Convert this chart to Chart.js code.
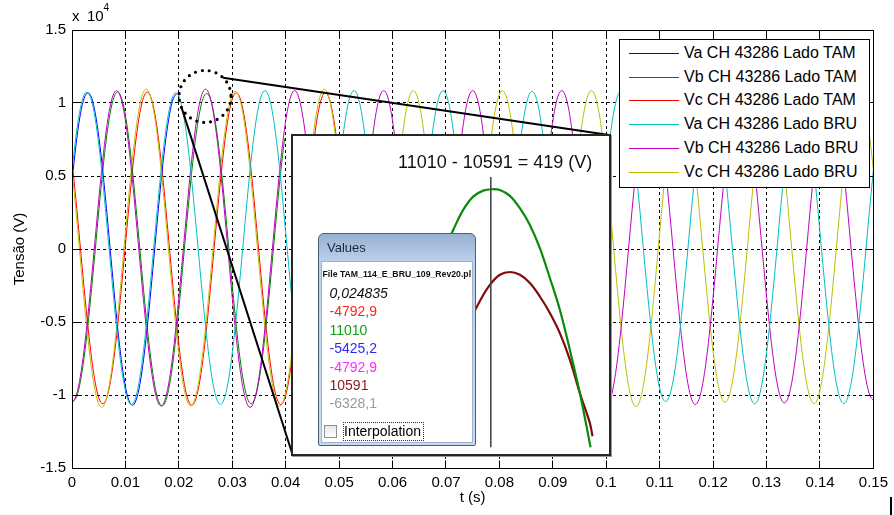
<!DOCTYPE html>
<html><head><meta charset="utf-8"><title>Tensão</title>
<script src="https://cdn.jsdelivr.net/npm/chart.js@4.4.1/dist/chart.umd.min.js"></script>
<style>
html,body{margin:0;padding:0;background:#fff;overflow:hidden;}
#wrap{position:relative;width:894px;height:515px;font-family:"Liberation Sans",Arial,Helvetica,sans-serif;color:#000;}
#main{position:absolute;left:0;top:0;}
#legend{position:absolute;left:619px;top:39px;width:249px;height:147px;border:1px solid #000;background:#fff;}
#legend .row{position:absolute;left:0;width:249px;height:24px;line-height:24px;font-size:16px;white-space:nowrap;}
#legend .sw{position:absolute;left:9px;top:12px;width:50px;height:1px;}
#legend .lb{position:absolute;left:64px;top:0;}
#inset{position:absolute;left:291px;top:134px;width:316px;height:318px;border:2px solid #262626;background:#fff;box-shadow:1px 1px 0 #9a9a9a;}
#zoomc{position:absolute;left:0;top:0;}
#diff{position:absolute;left:105px;top:17px;font-size:18px;line-height:18px;white-space:nowrap;color:#111;}
#dlg{position:absolute;left:25px;top:97px;width:156px;height:211px;border:1px solid #4d5d73;border-radius:6px 6px 2px 2px;background:linear-gradient(#98b1d2,#bcd0ea 28px,#c8daf0);}
#dlg .client{position:absolute;left:2px;top:27px;width:150px;height:180px;background:#fff;border:1px solid #9db3cf;}
#dlg .ttl{position:absolute;left:8px;top:6px;font-size:13px;line-height:16px;color:#1b2a3c;}
#dlg .file{position:absolute;left:3.5px;top:35px;font-size:8.7px;font-weight:bold;line-height:10px;white-space:nowrap;color:#111;}
#dlg .val{position:absolute;left:10.5px;font-size:14px;line-height:18px;white-space:nowrap;}
#dlg .chk{position:absolute;left:5px;top:191px;width:11px;height:11px;border:1px solid #8f8f8f;background:linear-gradient(#e8e8e8,#fff);}
#dlg .itx{position:absolute;left:25px;top:188px;font-size:14px;line-height:18px;white-space:nowrap;}
#dlg .focus{position:absolute;left:23.5px;top:187.5px;width:79px;height:17px;border:1px dotted #333;}
#corner{position:absolute;left:890px;top:497px;width:2px;height:18px;background:#000;}
</style></head>
<body>
<div id="wrap">
  <canvas id="main" width="894" height="515"></canvas>
  <div id="legend"></div>
  <div id="inset">
    <canvas id="zoomc" width="316" height="318"></canvas>
    <div id="diff"></div>
    <div id="dlg">
      <div class="client"></div>
      <div class="ttl">Values</div>
      <div class="file">File TAM_114_E_BRU_109_Rev20.pl</div>
      <div id="vals"></div>
      <div class="chk"></div>
      <div class="focus"></div>
      <div class="itx">Interpolation</div>
    </div>
  </div>
  <div id="corner"></div>
</div>
<script>
// ================= DATA =================
// Main chart: voltages in units of 10^4 V, sampled every SAMPLE_DT seconds
const SERIES_NAMES = ['Va CH 43286 Lado TAM','Vb CH 43286 Lado TAM','Vc CH 43286 Lado TAM',
                      'Va CH 43286 Lado BRU','Vb CH 43286 Lado BRU','Vc CH 43286 Lado BRU'];
const SERIES_COLORS = ['#0000ff','#008000','#ff0000','#00bfbf','#bf00bf','#bfbf00'];
const SAMPLE_DT = 1/1440;   // s
const TAM_T0 = 0.0002;      // s, first TAM sample
const BRU_T0 = 0;           // s, first BRU sample
const X_MIN = 0, X_MAX = 0.15, X_STEP = 0.01;
const Y_MIN = -1.5, Y_MAX = 1.5, Y_STEP = 0.5;
const Y_EXPONENT = '4';

const vaTAM = [
.535,.757,.927,1.034,1.07,1.034,.927,.757,.535,.277,0,-.277,-.535,-.757,-.927,-1.034,-1.07,-1.034,-.927,-.757,-.535,-.277,0,.276,
.533,.753,.922,1.029,1.065];
const vbTAM = [
-1.045,-1.009,-.905,-.739,-.523,-.27,0,.278,.538,.76,.931,1.038,1.075,1.038,.931,.76,.538,.278,0,-.278,-.538,-.76,-.931,-1.038,
-1.075,-1.038,-.931,-.76,-.538,-.278,0,.276,.533,.753,.922,1.029,1.065,1.029,.922,.753,.533,.276,0,-.274,-.53,-.75,-.918,-1.024,
-1.06,-1.024,-.918,-.75,-.53,-.274,0,.277,.535,.757];
const vcTAM = [
.535,.277,0,-.274,-.53,-.75,-.918,-1.024,-1.06,-1.024,-.918,-.75,-.53,-.274,0,.278,.538,.76,.931,1.038,1.075,1.038,.931,.76,
.538,.278,0,-.277,-.535,-.757,-.927,-1.034,-1.07,-1.034,-.927,-.757,-.535,-.277,0,.277,.535,.757,.927,1.034,1.07,1.034,.927,.757,
.535,.277,0,-.276,-.533,-.753,-.922,-1.029,-1.065,-1.029,-.922,-.753,-.533,-.276,0,.277,.535,.757,.927,1.034,1.07,1.034,.927,.757,
.535];
const vaBRU = [
.538,.76,.931,1.038,1.075,1.038,.931,.76,.538,.278,0,-.276,-.533,-.753,-.922,-1.029,-1.065,-1.029,-.922,-.753,-.533,-.276,0,.277,
.535,.757,.927,1.034,1.07,1.034,.927,.757,.535,.277,0,-.276,-.533,-.753,-.922,-1.029,-1.065,-1.029,-.922,-.753,-.533,-.276,0,.281,
.543,.767,.94,1.048,1.085,1.048,.94,.767,.543,.281,0,-.274,-.53,-.75,-.918,-1.024,-1.06,-1.024,-.918,-.75,-.53,-.274,0,.281,
.543,.767,.94,1.048,1.085,1.048,.94,.767,.543,.281,0,-.274,-.53,-.75,-.918,-1.024,-1.06,-1.024,-.918,-.75,-.53,-.274,0,.281,
.543,.767,.94,1.048,1.085,1.048,.94,.767,.543,.281,0,-.274,-.53,-.75,-.918,-1.024,-1.06,-1.024,-.918,-.75,-.53,-.274,0,.28,
.54,.764,.935,1.043,1.08,1.043,.935,.764,.54,.28,0,-.274,-.53,-.75,-.918,-1.024,-1.06,-1.024,-.918,-.75,-.53,-.274,0,.28,
.54,.764,.935,1.043,1.08,1.043,.935,.764,.54,.28,0,-.27,-.523,-.739,-.905,-1.009,-1.045,-1.009,-.905,-.739,-.523,-.27,0,.28,
.54,.764,.935,1.043,1.08,1.043,.935,.764,.54,.28,0,-.274,-.53,-.75,-.918,-1.024,-1.06,-1.024,-.918,-.75,-.53,-.274,0,.28,
.54,.764,.935,1.043,1.08,1.043,.935,.764,.54,.28,0,-.274,-.53,-.75,-.918,-1.024,-1.06,-1.024,-.918,-.75,-.53,-.274,0,.28,
.54];
const vbBRU = [
-1.05,-1.014,-.909,-.742,-.525,-.272,0,.281,.543,.767,.94,1.048,1.085,1.048,.94,.767,.543,.281,0,-.278,-.538,-.76,-.931,-1.038,
-1.075,-1.038,-.931,-.76,-.538,-.278,0,.283,.548,.774,.948,1.058,1.095,1.058,.948,.774,.548,.283,0,-.281,-.543,-.767,-.94,-1.048,
-1.085,-1.048,-.94,-.767,-.543,-.281,0,.281,.543,.767,.94,1.048,1.085,1.048,.94,.767,.543,.281,0,-.278,-.538,-.76,-.931,-1.038,
-1.075,-1.038,-.931,-.76,-.538,-.278,0,.281,.543,.767,.94,1.048,1.085,1.048,.94,.767,.543,.281,0,-.278,-.538,-.76,-.931,-1.038,
-1.075,-1.038,-.931,-.76,-.538,-.278,0,.281,.543,.767,.94,1.048,1.085,1.048,.94,.767,.543,.281,0,-.278,-.538,-.76,-.931,-1.038,
-1.075,-1.038,-.931,-.76,-.538,-.278,0,.281,.543,.767,.94,1.048,1.085,1.048,.94,.767,.543,.281,0,-.278,-.538,-.76,-.931,-1.038,
-1.075,-1.038,-.931,-.76,-.538,-.278,0,.28,.54,.764,.935,1.043,1.08,1.043,.935,.764,.54,.28,0,-.276,-.533,-.753,-.922,-1.029,
-1.065,-1.029,-.922,-.753,-.533,-.276,0,.28,.54,.764,.935,1.043,1.08,1.043,.935,.764,.54,.28,0,-.273,-.528,-.746,-.914,-1.019,
-1.055,-1.019,-.914,-.746,-.528,-.273,0,.28,.54,.764,.935,1.043,1.08,1.043,.935,.764,.54,.28,0,-.268,-.518,-.732,-.896,-1,
-1.035];
const vcBRU = [
.543,.281,0,-.281,-.543,-.767,-.94,-1.048,-1.085,-1.048,-.94,-.767,-.543,-.281,0,.283,.548,.774,.948,1.058,1.095,1.058,.948,.774,
.548,.283,0,-.278,-.538,-.76,-.931,-1.038,-1.075,-1.038,-.931,-.76,-.538,-.278,0,.28,.54,.764,.935,1.043,1.08,1.043,.935,.764,
.54,.28,0,-.278,-.538,-.76,-.931,-1.038,-1.075,-1.038,-.931,-.76,-.538,-.278,0,.283,.548,.774,.948,1.058,1.095,1.058,.948,.774,
.548,.283,0,-.278,-.538,-.76,-.931,-1.038,-1.075,-1.038,-.931,-.76,-.538,-.278,0,.281,.543,.767,.94,1.048,1.085,1.048,.94,.767,
.543,.281,0,-.278,-.538,-.76,-.931,-1.038,-1.075,-1.038,-.931,-.76,-.538,-.278,0,.281,.543,.767,.94,1.048,1.085,1.048,.94,.767,
.543,.281,0,-.278,-.538,-.76,-.931,-1.038,-1.075,-1.038,-.931,-.76,-.538,-.278,0,.281,.543,.767,.94,1.048,1.085,1.048,.94,.767,
.543,.281,0,-.28,-.54,-.764,-.935,-1.043,-1.08,-1.043,-.935,-.764,-.54,-.28,0,.281,.543,.767,.94,1.048,1.085,1.048,.94,.767,
.543,.281,0,-.272,-.525,-.742,-.909,-1.014,-1.05,-1.014,-.909,-.742,-.525,-.272,0,.281,.543,.767,.94,1.048,1.085,1.048,.94,.767,
.543,.281,0,-.274,-.53,-.75,-.918,-1.024,-1.06,-1.024,-.918,-.75,-.53,-.274,0,.281,.543,.767,.94,1.048,1.085,1.048,.94,.767,
.543];

// Zoom marker on the main chart (data coordinates)
const ZOOM_T = 0.0249, ZOOM_V = 1.045;

// Inset (zoomed view): time in ms, voltage in V
const zoomTimeGreen = [24.20,24.372,24.495,24.618,24.741,24.845,24.947,25.070,25.193,25.316,25.439,25.562,25.685,25.808,25.931,26.013,26.063];
const zoomGreen     = [10700,10832,10920,10978,11004,11010,11007,10981,10927,10854,10753,10622,10483,10308,10119,9974,9881];
const zoomTimeRed   = [24.50,24.709,24.824,24.947,25.070,25.193,25.316,25.439,25.562,25.685,25.808,25.931,26.054,26.087];
const zoomRed       = [10380,10527,10592,10636,10648,10636,10600,10541,10469,10381,10265,10119,9988,9930];
const cursorTimeMs = 24.835;
const cursorSpanV = [11064, 9881];
const ZOOM_X_MIN = 22.4, ZOOM_X_MAX = 26.29, ZOOM_Y_MIN = 9852, ZOOM_Y_MAX = 11243;

// "Values" window readings at the cursor
const cursorTime = 0.024835;
const cursorValues = [-4792.9, 11010, -5425.2, -4792.9, 10591, -6328.1];
const cursorColors = ['#ff2020','#15a015','#2a2aff','#ff2aff','#8b1a1a','#9a9a9a'];

// ================= BUILD =================
const FONT = '"Liberation Sans", Arial, Helvetica, sans-serif';
function pts(vals, t0) { return vals.map((v, i) => ({ x: t0 + i * SAMPLE_DT, y: v })); }
const seriesVals = [vaTAM, vbTAM, vcTAM, vaBRU, vbBRU, vcBRU];
const seriesT0 = [TAM_T0, TAM_T0, TAM_T0, BRU_T0, BRU_T0, BRU_T0];
const datasets = seriesVals.map((vals, i) => ({
  label: SERIES_NAMES[i],
  data: pts(vals, seriesT0[i]),
  borderColor: SERIES_COLORS[i],
  backgroundColor: SERIES_COLORS[i],
  borderWidth: 1,
  pointRadius: 0,
  cubicInterpolationMode: 'monotone',
  fill: false,
  order: i < 3 ? 1 : 0
}));

// legend (HTML)
const leg = document.getElementById('legend');
SERIES_NAMES.forEach((n, i) => {
  const r = document.createElement('div');
  r.className = 'row';
  r.style.top = Math.round(1 + i * 23.7) + 'px';
  r.innerHTML = '<div class="sw" style="background:' + SERIES_COLORS[i] + '"></div><div class="lb"></div>';
  r.querySelector('.lb').textContent = n;
  leg.appendChild(r);
});

// values window
const fmt = v => String(v).replace('.', ',');
const valsDiv = document.getElementById('vals');
[[fmt(cursorTime), '#111', true]].concat(cursorValues.map((v, i) => [fmt(v), cursorColors[i], false])).forEach((row, i) => {
  const d = document.createElement('div');
  d.className = 'val';
  d.style.top = (59 + i * 18.4 - 9) + 'px';
  d.style.color = row[1];
  if (row[2]) d.style.fontStyle = 'italic';
  d.textContent = row[0];
  valsDiv.appendChild(d);
});
const gV = cursorValues[1], rV = cursorValues[4];
document.getElementById('diff').textContent = gV + ' - ' + rV + ' = ' + (gV - rV) + ' (V)';

const al = p => Math.round(p - 0.5) + 0.5;
const framePlugin = {
  id: 'frame',
  afterDatasetsDraw(c) {
    const { ctx, scales: { x, y } } = c;
    const cx = x.getPixelForValue(ZOOM_T), cy = y.getPixelForValue(ZOOM_V), r = 26;
    ctx.save();
    ctx.strokeStyle = '#000';
    ctx.lineWidth = 3.2; ctx.lineCap = 'round'; ctx.setLineDash([0, 7]);
    ctx.beginPath(); ctx.arc(cx, cy, r, 0, Math.PI * 2); ctx.stroke();
    ctx.setLineDash([]); ctx.lineCap = 'butt'; ctx.lineWidth = 2;
    const a1 = -46 * Math.PI / 180, a2 = 154 * Math.PI / 180;
    ctx.beginPath();
    ctx.moveTo(cx + r * Math.cos(a1), cy + r * Math.sin(a1)); ctx.lineTo(609, 135);
    ctx.moveTo(cx + r * Math.cos(a2), cy + r * Math.sin(a2)); ctx.lineTo(293, 456);
    ctx.stroke();
    ctx.restore();
  },
  afterDraw(c) {
    const { ctx, chartArea: a, scales: { x, y } } = c;
    ctx.save();
    ctx.strokeStyle = '#000'; ctx.lineWidth = 1; ctx.setLineDash([]);
    const L = al(a.left), R = al(a.right), T = al(a.top), B = al(a.bottom);
    ctx.beginPath();
    ctx.moveTo(L, T); ctx.lineTo(R, T); ctx.lineTo(R, B); ctx.lineTo(L, B); ctx.closePath();
    x.ticks.forEach(t => { const p = al(x.getPixelForValue(t.value)); ctx.moveTo(p, B); ctx.lineTo(p, B - 8); ctx.moveTo(p, T); ctx.lineTo(p, T + 8); });
    y.ticks.forEach(t => { const p = al(y.getPixelForValue(t.value)); ctx.moveTo(L, p); ctx.lineTo(L + 8, p); ctx.moveTo(R, p); ctx.lineTo(R - 8, p); });
    ctx.stroke();
    ctx.fillStyle = '#000';
    ctx.textBaseline = 'alphabetic'; ctx.textAlign = 'left';
    ctx.font = '15px ' + FONT;
    ctx.fillText('x', 72, 21);
    ctx.fillText('10', 87, 21);
    ctx.font = '10px ' + FONT;
    ctx.fillText(Y_EXPONENT, 103.5, 11);
    ctx.restore();
  }
};

new Chart(document.getElementById('main'), {
  type: 'line',
  data: { datasets },
  options: {
    responsive: false, animation: false, devicePixelRatio: 1, events: [],
    layout: { padding: { top: 30, right: 19, left: 0, bottom: 0 } },
    plugins: { legend: { display: false }, tooltip: { enabled: false } },
    scales: {
      x: {
        type: 'linear', min: X_MIN, max: X_MAX,
        ticks: { stepSize: X_STEP, autoSkip: false, maxRotation: 0, padding: 6, color: '#000',
                 font: { family: FONT, size: 15 }, callback: v => String(Math.round(v * 100) / 100) },
        grid: { color: '#000', lineWidth: 1, drawTicks: false },
        border: { display: true, color: '#000', width: 1, dash: [3, 3] },
        title: { display: true, text: 't (s)', color: '#000', font: { family: FONT, size: 15 }, padding: { top: 0, bottom: 8 } },
        afterFit: s => { s.height = 47; }
      },
      y: {
        type: 'linear', min: Y_MIN, max: Y_MAX,
        ticks: { stepSize: Y_STEP, padding: 6, color: '#000', font: { family: FONT, size: 15 },
                 callback: v => String(Math.round(v * 10) / 10) },
        grid: { color: '#000', lineWidth: 1, drawTicks: false },
        border: { display: true, color: '#000', width: 1, dash: [3, 3] },
        title: { display: true, text: 'Tensão (V)', color: '#000', font: { family: FONT, size: 15 }, padding: { top: 11, bottom: 0 } },
        afterFit: s => { s.width = 72; }
      }
    }
  },
  plugins: [framePlugin]
});

// inset chart
const zpts = (xs, ys) => xs.map((t, i) => ({ x: t, y: ys[i] }));
new Chart(document.getElementById('zoomc'), {
  type: 'line',
  data: { datasets: [
    { data: zpts([cursorTimeMs, cursorTimeMs], cursorSpanV), borderColor: '#4a4a4a', borderWidth: 1.6, pointRadius: 0 },
    { data: zpts(zoomTimeGreen, zoomGreen), borderColor: '#0a8a0a', borderWidth: 2.2, pointRadius: 0, tension: 0.35 },
    { data: zpts(zoomTimeRed, zoomRed), borderColor: '#820a0a', borderWidth: 2.2, pointRadius: 0, tension: 0.35 }
  ]},
  options: {
    responsive: false, animation: false, devicePixelRatio: 1, events: [],
    layout: { padding: 0 },
    plugins: { legend: { display: false }, tooltip: { enabled: false } },
    scales: {
      x: { type: 'linear', display: false, min: ZOOM_X_MIN, max: ZOOM_X_MAX },
      y: { type: 'linear', display: false, min: ZOOM_Y_MIN, max: ZOOM_Y_MAX }
    }
  }
});
</script>
</body></html>
